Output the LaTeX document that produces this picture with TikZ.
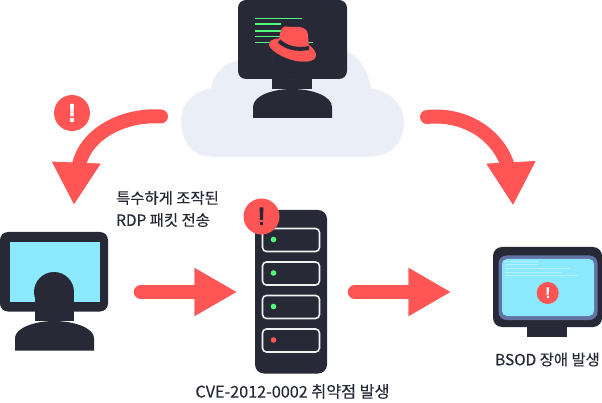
\documentclass[tikz,border=0pt]{standalone}
\usepackage{fontspec}
\setmainfont{Noto Sans CJK KR}[FakeBold=0.25]
\definecolor{dk}{HTML}{272A36}
\definecolor{dk2}{HTML}{2B2E3A}
\definecolor{rd}{HTML}{FF5555}
\definecolor{gr}{HTML}{50FA7B}
\definecolor{cy}{HTML}{8BE9FD}
\definecolor{cl}{HTML}{EAEEF6}
\definecolor{pu}{HTML}{6272A4}
\tikzset{
  lbl/.style={font=\fontsize{15.4}{18}\selectfont,text=dk,inner sep=0pt},
  lblwide/.style={font=\fontsize{16.2}{18}\selectfont,text=dk,inner sep=0pt},
  arrowline/.style={draw=rd,line width=14pt,line cap=round},
  tip/.style={fill=rd,draw=rd,line width=0.8pt,line join=round},
  alert/.style={circle,fill=rd,minimum size=36pt,inner sep=0pt},
  bar/.style={draw=gr,line width=1.5pt},
  slot/.style={draw=white!93!dk,line width=1.6pt,rounded corners=4pt},
}
\newcommand{\bang}[4]{% centre x,y, scale, colour
  \fill[#4] (#1-2*#3,#2-9.5*#3) -- (#1+2*#3,#2-9.5*#3) -- (#1+1.6*#3,#2+3.5*#3) -- (#1-1.6*#3,#2+3.5*#3) -- cycle;
  \fill[#4] (#1-1.8*#3,#2+5.5*#3) rectangle (#1+1.8*#3,#2+9*#3);}
\begin{document}
\begin{tikzpicture}[x=1pt,y=-1pt]
\useasboundingbox (0,0) rectangle (602,403);
\fill[white] (0,0) rectangle (602,403);
% cloud
\fill[cl,draw=white!60!cl,line width=0.7pt] (215,157)
  .. controls (190,157) and (181,140) .. (181,120)
  .. controls (181,102) and (195,91) .. (211,88)
  .. controls (214,72) and (226,60) .. (245,60)
  -- (345,50)
  .. controls (358,55) and (368,70) .. (371,88)
  .. controls (388,91) and (404,102) .. (404,122)
  .. controls (404,142) and (392,157) .. (368,157) -- cycle;
% hacker monitor
\fill[dk,rounded corners=8pt] (238,0) rectangle (347,79);
\fill[dk] (272,79) rectangle (312,89);
\fill[dk] (253,118) -- (253,107) .. controls (253,96) and (272,89) .. (292,89)
  .. controls (312,89) and (332,96) .. (332,107) -- (332,118) -- cycle;
\fill[dk2] (292,60) circle (20);
\fill[dk] (292,60) circle (19.3);
\draw[bar] (255,18.5) -- (302,18.5);
\draw[bar] (255,24) -- (281,24);
\draw[bar] (255,31) -- (285,31);
\draw[bar] (255,36.7) -- (285,36.7);
\draw[bar] (255,42.5) -- (313,42.5);
% red hat
\fill[rd] (279,40) .. controls (280,32) and (281,27) .. (285,26.5)
  .. controls (289,26) and (291,28) .. (294,27)
  .. controls (299,26) and (305,28) .. (307,31)
  .. controls (309,36) and (308,42) .. (309,47)
  -- (285,47) -- cycle;
\fill[rd] (278,38.5) .. controls (273,38.5) and (269,41) .. (269,45)
  .. controls (270,50) and (282,58) .. (296,61)
  .. controls (305,62.5) and (316,62) .. (316,55)
  .. controls (316,51) and (312,47) .. (309,45) -- cycle;
\draw[dk,line width=4pt] (279,41) .. controls (286,47.5) and (296,50.5) .. (309,48);
% left curved arrow
\coordinate (a1s) at (161,116.5);
\coordinate (a1e) at (78,170);
\draw[arrowline] (a1s) .. controls (125,114) and (83,133) .. (a1e);
\fill[tip] (52.5,162) -- (100,164) -- (74,203.5) -- cycle;
\node[alert] (alertA) at (72,113) {};
\bang{72}{113}{0.95}{white}
% right curved arrow
\coordinate (a2s) at (427,117);
\coordinate (a2e) at (509,170);
\draw[arrowline] (a2s) .. controls (465,113) and (500,135) .. (a2e);
\fill[tip] (487,164) -- (535,161.5) -- (513,204) -- cycle;
% text 1
\node[lbl,anchor=west] (t1) at (116,198) {특수하게 조작된};
\node[lbl,anchor=west] (t2) at (116,220) {RDP 패킷 전송};
% client
\fill[dk,rounded corners=8pt] (0,232) rectangle (108,311.5);
\fill[cy] (9.5,242) rectangle (99.5,302);
\fill[dk] (34.5,290) rectangle (74,321);
\fill[dk] (15,350.5) -- (15,338) .. controls (15,328) and (35,321) .. (54,321)
  .. controls (74,321) and (94,328) .. (94,338) -- (94,350.5) -- cycle;
\fill[dk] (54,292) circle (20);
% right arrow 1
\coordinate (b1s) at (141,292);
\coordinate (b1e) at (198,292);
\draw[arrowline,line width=14.5pt] (b1s) -- (b1e);
\fill[tip,line width=0.3pt] (194.5,268) -- (236,292) -- (194.5,316) -- cycle;
% server
\fill[dk,rounded corners=9pt] (255,210) rectangle (327,373.5);
\foreach \y/\c in {228.5/gr,262/gr,295.5/gr,329/rd}{
  \draw[slot] (262.5,\y) rectangle (319.5,\y+23);
  \fill[\c] (273.5,\y+11) circle (2.8);
}
\node[alert] (alertB) at (261.5,216.5) {};
\bang{261.5}{216.5}{0.95}{dk}
% right arrow 2
\coordinate (b2s) at (355,292);
\coordinate (b2e) at (412,292);
\draw[arrowline,line width=14.5pt] (b2s) -- (b2e);
\fill[tip,line width=0.3pt] (408.5,268) -- (450,292) -- (408.5,316) -- cycle;
% BSOD monitor
\fill[dk,rounded corners=9pt] (493,247) rectangle (602,327);
\fill[dk] (527,327) rectangle (567,336.5);
\fill[pu,rounded corners=8pt] (498.5,255.5) rectangle (597.5,320);
\fill[cy,rounded corners=5pt] (502,259) rectangle (594,316);
\draw[white!35!cy,line width=1pt] (505,261.7) -- (538,261.7);
\draw[white!35!cy,line width=1pt] (505,265) -- (538,265);
\draw[white!35!cy,line width=1pt] (505,269) -- (570,269);
\draw[white!35!cy,line width=1pt] (505,272.3) -- (562,272.3);
\draw[white!35!cy,line width=1pt] (505,275.7) -- (578,275.7);
\node[alert,minimum size=22pt] (alertC) at (547.7,293) {};
\bang{547.7}{293}{0.6}{white}
% labels
\node[lblwide,anchor=center] (t3) at (292.5,391.5) {CVE-2012-0002 취약점 발생};
\node[lbl,anchor=center] (t4) at (547.5,359.5) {BSOD 장애 발생};
\end{tikzpicture}
\end{document}
